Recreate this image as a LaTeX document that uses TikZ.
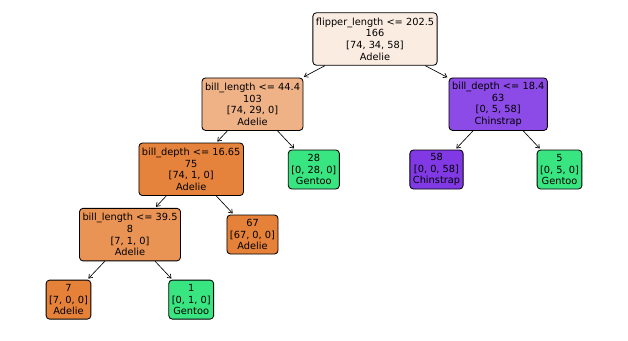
\documentclass[tikz,border=0pt]{standalone}
\usepackage{fontspec}
\setmainfont{DejaVu Sans}
\usetikzlibrary{arrows.meta}
\definecolor{cRoot}{HTML}{FBECE2}
\definecolor{cA}{HTML}{EFB287}
\definecolor{cB}{HTML}{8C4AE7}
\definecolor{cC}{HTML}{E5833C}
\definecolor{cD}{HTML}{E99355}
\definecolor{adelie}{HTML}{E58139}
\definecolor{gentoo}{HTML}{39E581}
\definecolor{chinstrap}{HTML}{8139E5}
\begin{document}
\begin{tikzpicture}[x=1pt,y=-1pt,
  treenode/.style={draw=black, line width=0.85pt, rounded corners=3.5pt, align=center,
    font=\fontsize{9.8}{11.7}\selectfont, inner xsep=3pt, inner ysep=2pt},
  split/.style={treenode, minimum height=52.5pt},
  leaf/.style={treenode, minimum height=39pt},
  edge/.style={line width=0.65pt, -{Straight Barb[length=3.5pt,width=5pt]}, shorten >=1.5pt}]
\useasboundingbox (0,0) rectangle (628,340);
\node[split, fill=cRoot] (root) at (375,39) {flipper\_length <= 202.5\\166\\{[74, 34, 58]}\\Adelie};
\node[split, fill=cA] (n1) at (252.5,104.2) {bill\_length <= 44.4\\103\\{[74, 29, 0]}\\Adelie};
\node[split, fill=cB] (n2) at (498.2,104.2) {bill\_depth <= 18.4\\63\\{[0, 5, 58]}\\Chinstrap};
\node[split, fill=cC] (n3) at (191.2,169.3) {bill\_depth <= 16.65\\75\\{[74, 1, 0]}\\Adelie};
\node[leaf, fill=gentoo] (l28) at (313.8,169.5) {28\\{[0, 28, 0]}\\Gentoo};
\node[leaf, fill=chinstrap] (l58) at (436.5,169.5) {58\\{[0, 0, 58]}\\Chinstrap};
\node[leaf, fill=gentoo] (l5) at (559.5,169.5) {5\\{[0, 5, 0]}\\Gentoo};
\node[split, fill=cD] (n4) at (130,234.6) {bill\_length <= 39.5\\8\\{[7, 1, 0]}\\Adelie};
\node[leaf, fill=adelie] (l67) at (252.5,234.5) {67\\{[67, 0, 0]}\\Adelie};
\node[leaf, fill=adelie] (l7) at (68.5,299.6) {7\\{[7, 0, 0]}\\Adelie};
\node[leaf, fill=gentoo] (l1) at (191.2,299.6) {1\\{[0, 1, 0]}\\Gentoo};
\draw[edge] (root) -- (n1);
\draw[edge] (root) -- (n2);
\draw[edge] (n1) -- (n3);
\draw[edge] (n1) -- (l28);
\draw[edge] (n2) -- (l58);
\draw[edge] (n2) -- (l5);
\draw[edge] (n3) -- (n4);
\draw[edge] (n3) -- (l67);
\draw[edge] (n4) -- (l7);
\draw[edge] (n4) -- (l1);
\end{tikzpicture}
\end{document}
